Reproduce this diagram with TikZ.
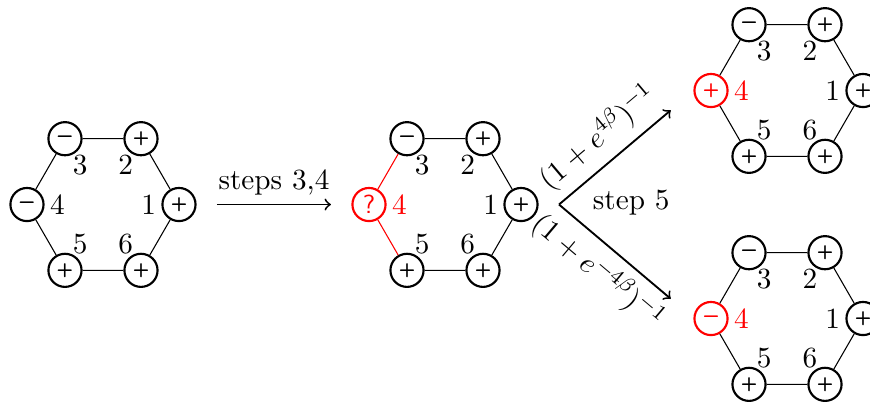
\documentclass[tikz,border=0pt]{standalone}

\tikzset{
  every node/.style={font=\fontsize{10.95}{13.6}\selectfont},
  site/.style={circle, draw, line width=0.8pt, minimum size=12.4pt, inner sep=0pt,
               font=\fontsize{7.2}{8}\sffamily\bfseries},
  idx/.style={inner sep=0pt},
  bond/.style={line width=0.4pt},
  flow/.style={->, line width=0.7pt},
}

\newcommand{\spinup}{+}
\newcommand{\spindown}{\symbol{"2212}}

% #1 name prefix, #2 centre, #3 content of site 4, #4 style of site 4, #5 style of its bonds
\newcommand{\hexring}[5]{%
  \begin{scope}[shift={#2}]
    \node[site] (#1-1) at (0:1)   {\spinup};
    \node[site] (#1-2) at (60:1)  {\spinup};
    \node[site] (#1-3) at (120:1) {\spindown};
    \node[site,#4] (#1-4) at (180:1) {#3};
    \node[site] (#1-5) at (240:1) {\spinup};
    \node[site] (#1-6) at (300:1) {\spinup};
    \foreach \n in {1,2,3,5,6} \node[idx] (#1-l\n) at ({60*(\n-1)}:0.6) {\n};
    \node[idx,#4] (#1-l4) at (180:0.6) {4};
    \draw[bond] (#1-1) -- (#1-2) (#1-2) -- (#1-3) (#1-5) -- (#1-6) (#1-6) -- (#1-1);
    \draw[bond,#5] (#1-3) -- (#1-4) (#1-4) -- (#1-5);
  \end{scope}}

\begin{document}
\begin{tikzpicture}
  \useasboundingbox (-1.355,-2.612) rectangle (10.092,2.691);

  % initial configuration
  \hexring{a}{(0,0)}{\spindown}{}{}
  % site 4 undecided
  \hexring{b}{(4.5,0)}{\fontsize{9.8}{10}\mdseries ?}{red}{red}
  % the two outcomes
  \hexring{c}{(9,1.5)}{\spinup}{red}{}
  \hexring{d}{(9,-1.5)}{\spindown}{red}{}

  % steps 3,4
  \coordinate (s34a) at (1.5,0);
  \coordinate (s34b) at (3,0);
  \draw[flow] (s34a) -- node[above] (l34) {steps 3,4} (s34b);

  % step 5 fork
  \coordinate (fork) at (6,0);
  \coordinate (upT) at (7.47,1.24);
  \coordinate (dnT) at (7.47,-1.24);
  \draw[flow] (fork) -- node[sloped,above] (pup) {$(1+e^{4\beta})^{-1}$} (upT);
  \draw[flow] (fork) -- node[sloped,below] (pdn) {$(1+e^{-4\beta})^{-1}$} (dnT);
  \node (st5) at (6.95,0.03) {step 5};
\end{tikzpicture}
\end{document}
